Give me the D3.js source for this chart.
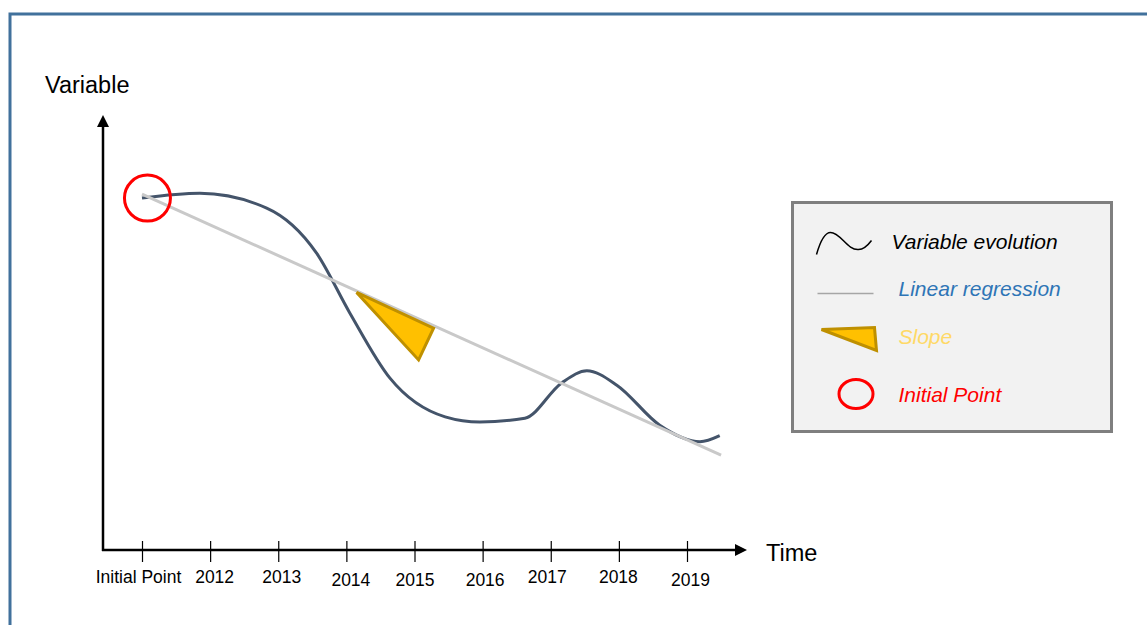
<!DOCTYPE html>
<html>
<head>
<meta charset="utf-8">
<script src="https://cdn.jsdelivr.net/npm/d3@7"></script>
<style>
  body { margin: 0; background: #fff; }
  svg { display: block; font-family: "Liberation Sans", Arial, sans-serif; }
</style>
</head>
<body>
<div id="chart"></div>
<script>
// Tick labels along the time axis (index 0..8)
var tickLabels = ['Initial Point', '2012', '2013', '2014', '2015', '2016', '2017', '2018', '2019'];

// Variable evolution, x in tick-index units, v on a 0..100 scale
var curveX = [0, 0.85, 1.83, 2.56, 3.05, 3.64, 4.45, 4.96, 5.62, 6.16, 6.53, 6.97, 7.60, 8.19, 8.48];
var curveV = [80.9, 82.0, 78.6, 68.3, 54.5, 39.5, 30.6, 29.4, 30.3, 38.4, 41.2, 37.9, 28.7, 24.9, 26.3];

// Linear regression end points
var regX = [0, 8.5];
var regV = [81.8, 21.8];

// Slope triangle
var slopeX = [3.15, 4.28, 4.06];
var slopeV = [59.2, 51.0, 43.7];

// Initial point marker
var initialPoint = {x: 0.08, v: 80.9};

var legendItems = [
  {label: 'Variable evolution', color: '#000000'},
  {label: 'Linear regression', color: '#2e75b6'},
  {label: 'Slope', color: '#ffd966'},
  {label: 'Initial Point', color: '#ff0000'}
];

var W = 1147, H = 625;
var svg = d3.select('#chart').append('svg')
  .attr('width', W)
  .attr('height', H);

// outer frame
svg.append('rect')
  .attr('x', 10).attr('y', 14)
  .attr('width', 1200).attr('height', 700)
  .attr('fill', 'none')
  .attr('stroke', '#41719c')
  .attr('stroke-width', 3);

// scales
var x = d3.scaleLinear().domain([0, 8]).range([142, 687]);
var y = d3.scaleLinear().domain([0, 100]).range([550, 115]);

var axisX0 = 103;

// y axis with arrow
svg.append('line')
  .attr('x1', axisX0).attr('x2', axisX0)
  .attr('y1', y(0) + 1).attr('y2', y(100) + 10)
  .attr('stroke', '#000').attr('stroke-width', 2.5);
svg.append('path')
  .attr('d', d3.line()([[axisX0, y(100)], [axisX0 - 6, y(100) + 12], [axisX0 + 6, y(100) + 12]]) + 'Z')
  .attr('fill', '#000');

// x axis with arrow
var xEnd = 747;
svg.append('line')
  .attr('x1', axisX0 - 1).attr('x2', xEnd - 10)
  .attr('y1', y(0)).attr('y2', y(0))
  .attr('stroke', '#000').attr('stroke-width', 2.5);
svg.append('path')
  .attr('d', d3.line()([[xEnd, y(0)], [xEnd - 12, y(0) - 6], [xEnd - 12, y(0) + 6]]) + 'Z')
  .attr('fill', '#000');

// ticks and labels
var labelDx = [-4, 4, 3, 4, 0, 2, -4, -1, 3];
var labelDy = [0, 0, 0, 3, 3, 3, 0, 0, 3];
var xAxis = d3.axisBottom(x)
  .tickValues(d3.range(tickLabels.length))
  .tickFormat(function(d) { return tickLabels[d]; })
  .tickSize(12);
var gx = svg.append('g')
  .attr('transform', 'translate(0,' + y(0) + ')')
  .call(xAxis);
gx.select('.domain').remove();
gx.selectAll('.tick line')
  .attr('y1', -9).attr('y2', 12)
  .attr('stroke', '#000').attr('stroke-width', 1.2);
gx.selectAll('.tick text')
  .attr('y', 33)
  .attr('dy', null)
  .attr('dx', function(d) { return labelDx[d]; })
  .attr('transform', function(d) { return 'translate(0,' + labelDy[d] + ')'; })
  .attr('fill', '#000')
  .style('font-size', '17.5px')
  .style('font-family', '"Liberation Sans", Arial, sans-serif');

// axis titles
svg.append('text')
  .attr('x', 45).attr('y', 93)
  .style('font-size', '23.5px')
  .text('Variable');
svg.append('text')
  .attr('x', 766).attr('y', 561)
  .style('font-size', '23.5px')
  .text('Time');

var lineXY = d3.line().x(function(d) { return x(d[0]); }).y(function(d) { return y(d[1]); });

// variable evolution curve
var curveData = curveX.map(function(d, i) { return [d, curveV[i]]; });
svg.append('path')
  .attr('d', lineXY.curve(d3.curveMonotoneX)(curveData))
  .attr('fill', 'none')
  .attr('stroke', '#44546a')
  .attr('stroke-width', 3);

// regression line, drawn over the curve
var regData = regX.map(function(d, i) { return [d, regV[i]]; });
svg.append('path')
  .attr('d', lineXY.curve(d3.curveLinear)(regData))
  .attr('fill', 'none')
  .attr('stroke', '#c9c9c9')
  .attr('stroke-width', 3);

// slope triangle
var slopeData = slopeX.map(function(d, i) { return [x(d), y(slopeV[i])]; });
svg.append('path')
  .attr('d', d3.line()(slopeData) + 'Z')
  .attr('fill', '#ffc000')
  .attr('stroke', '#bf9000')
  .attr('stroke-width', 3)
  .attr('stroke-linejoin', 'miter');

// initial point circle
svg.append('circle')
  .attr('cx', x(initialPoint.x))
  .attr('cy', y(initialPoint.v))
  .attr('r', 23)
  .attr('fill', 'none')
  .attr('stroke', '#ff0000')
  .attr('stroke-width', 3);

// legend
var legend = svg.append('g').attr('transform', 'translate(792.5,202.5)');
legend.append('rect')
  .attr('width', 319).attr('height', 229)
  .attr('fill', '#f2f2f2')
  .attr('stroke', '#7f7f7f')
  .attr('stroke-width', 3);

// icons (relative to the legend box)
legend.append('path')
  .attr('d', 'M24,52 C28,38 32,30 38,30 C48,30 55,48 66,47 C72,47 76,42 79,38')
  .attr('fill', 'none')
  .attr('stroke', '#000')
  .attr('stroke-width', 1.5);
legend.append('line')
  .attr('x1', 25).attr('x2', 81)
  .attr('y1', 91).attr('y2', 91)
  .attr('stroke', '#a6a6a6')
  .attr('stroke-width', 1.5);
legend.append('path')
  .attr('d', 'M29,127 L82,125 L84,148 Z')
  .attr('fill', '#ffc000')
  .attr('stroke', '#bf9000')
  .attr('stroke-width', 3);
legend.append('ellipse')
  .attr('cx', 63.5).attr('cy', 191.5)
  .attr('rx', 17).attr('ry', 14.5)
  .attr('fill', 'none')
  .attr('stroke', '#ff0000')
  .attr('stroke-width', 3);

var legendTextPos = [[99, 46], [106, 93], [106, 141], [106, 199]];
legend.selectAll('text.item')
  .data(legendItems)
  .enter().append('text')
  .attr('class', 'item')
  .attr('x', function(d, i) { return legendTextPos[i][0]; })
  .attr('y', function(d, i) { return legendTextPos[i][1]; })
  .attr('fill', function(d) { return d.color; })
  .style('font-size', '21px')
  .style('font-style', 'italic')
  .text(function(d) { return d.label; });
</script>
</body>
</html>
